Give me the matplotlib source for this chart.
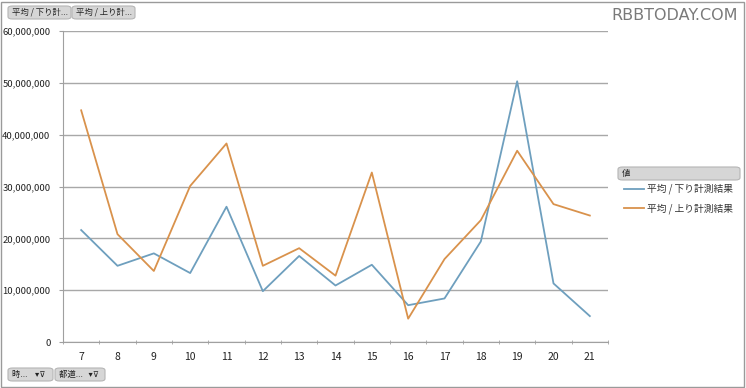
import matplotlib
matplotlib.use("Agg")
import matplotlib.pyplot as plt
from matplotlib.patches import FancyBboxPatch, Rectangle
from matplotlib.ticker import FuncFormatter, FixedLocator

plt.rcParams['font.family'] = ['Noto Sans CJK JP', 'DejaVu Sans']

# data
days = ['7', '8', '9', '10', '11', '12', '13', '14', '15', '16', '17', '18', '19', '20', '21']
down_avg = [21.6e6, 14.7e6, 17.1e6, 13.3e6, 26.1e6, 9.8e6, 16.6e6, 10.9e6,
            14.9e6, 7.1e6, 8.4e6, 19.4e6, 50.3e6, 11.3e6, 5.0e6]
up_avg = [44.7e6, 20.8e6, 13.7e6, 30.1e6, 38.3e6, 14.7e6, 18.1e6, 12.8e6,
          32.7e6, 4.5e6, 16.0e6, 23.5e6, 36.9e6, 26.6e6, 24.4e6]
series_names = ['平均 / 下り計測結果', '平均 / 上り計測結果']
colors = ['#6e9fbe', '#d9924c']

W, H = 746, 388
fig = plt.figure(figsize=(W / 100, H / 100), dpi=100)
ax = fig.add_axes([63 / W, 1 - 342 / H, (608 - 63) / W, (342 - 31) / H])

x = list(range(len(days)))
ax.plot(x, down_avg, color=colors[0], lw=1.3, label=series_names[0])
ax.plot(x, up_avg, color=colors[1], lw=1.3, label=series_names[1])

ax.set_xlim(-0.5, len(days) - 0.5)
ax.set_ylim(0, 60e6)
ax.set_yticks([i * 10e6 for i in range(7)])
ax.yaxis.set_major_formatter(FuncFormatter(lambda v, p: f'{int(v):,}'))
ax.set_xticks(x)
ax.set_xticklabels(days)
ax.xaxis.set_minor_locator(FixedLocator([i - 0.5 for i in range(len(days) + 1)]))

ax.grid(axis='y', color='#a8a8a8', lw=1)
ax.set_axisbelow(True)
for s in ['top', 'right']:
    ax.spines[s].set_visible(False)
for s in ['left', 'bottom']:
    ax.spines[s].set_color('#a0a0a0')
ax.tick_params(axis='y', length=3, color='#a0a0a0', labelsize=6.8, pad=6, labelcolor='#222222')
ax.tick_params(axis='x', which='major', length=0, labelsize=7.5, pad=7, labelcolor='#222222')
ax.tick_params(axis='x', which='minor', length=3, direction='inout', color='#a0a0a0')

# legend
leg = ax.legend(loc='upper left', bbox_to_anchor=(621 / W, 1 - 181 / H),
                bbox_transform=fig.transFigure, frameon=False, fontsize=7,
                handlelength=2.1, handletextpad=0.25, labelspacing=0.95,
                borderaxespad=0, borderpad=0.3)
for t in leg.get_texts():
    t.set_color('#333333')


def button(x0, y0, w, h, label, fs=6):
    fig.patches.append(FancyBboxPatch((x0 / W, 1 - (y0 + h) / H), w / W, h / H,
                                      boxstyle='round,pad=0,rounding_size=0.006',
                                      transform=fig.transFigure, fc='#d6d6d6',
                                      ec='#b5b5b5', lw=0.8))
    fig.text((x0 + 4) / W, 1 - (y0 + h / 2) / H, label, fontsize=fs,
             va='center', ha='left', color='#222222')


button(618, 167, 122, 13, '値')
button(8, 6, 63, 13, '平均 / 下り計...')
button(72, 6, 63, 13, '平均 / 上り計...')
button(8, 368, 45, 13, '時...    ▾⊽')
button(55, 368, 50, 13, '都道...   ▾⊽')

# watermark
fig.text(738 / W, 1 - 15 / H, 'RBBTODAY.COM', fontsize=11.5, ha='right', va='center',
         color='#7a7a7a', family='DejaVu Sans')

# outer frame
fig.patches.append(Rectangle((1 / W, 1 / H), (W - 3) / W, (H - 3) / H,
                             transform=fig.transFigure, fill=False,
                             ec='#9a9a9a', lw=1))

fig.savefig('out.png', dpi=100)
